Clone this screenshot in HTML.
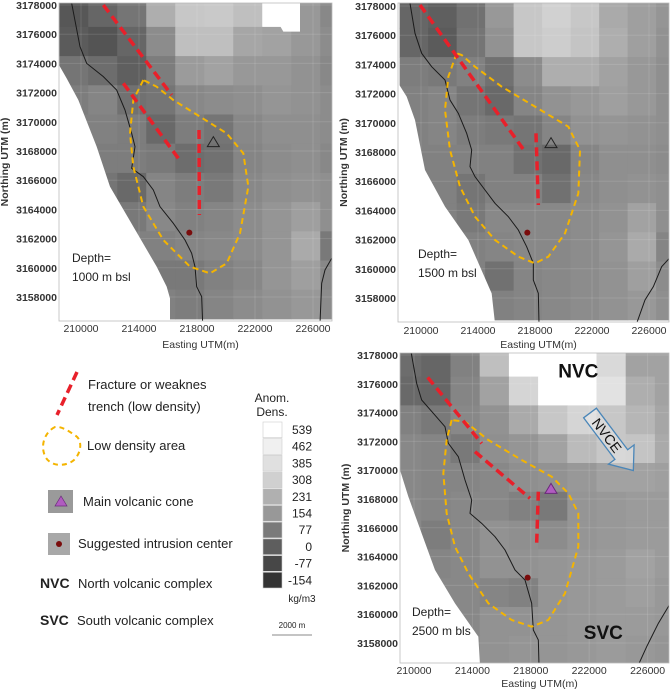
<!DOCTYPE html>
<html><head><meta charset="utf-8"><style>
html,body{margin:0;padding:0;background:#fff;}
svg{display:block;font-family:"Liberation Sans",sans-serif;}
</style></head><body>
<svg id="fig" width="671" height="694" viewBox="0 0 671 694">
<defs>
<clipPath id="c1"><rect x="59" y="3" width="273" height="318"/></clipPath>
<clipPath id="c2"><rect x="398" y="3" width="271" height="319"/></clipPath>
<clipPath id="c3"><rect x="400" y="353" width="269" height="310"/></clipPath>
</defs>
<g id="maps"></g>

<g font-size="13" fill="#222">
  <line x1="77" y1="372" x2="57" y2="415" stroke="#e8202a" stroke-width="3.5" stroke-dasharray="9,5"/>
  <text x="88" y="389">Fracture or weaknes</text>
  <text x="88" y="411">trench (low density)</text>
  <path d="M55,427 C45,432 40,445 45,456 C50,467 66,467 74,460 C82,452 82,440 76,436 C70,432 62,426 55,427 Z" fill="none" stroke="#f4b400" stroke-width="2" stroke-dasharray="5,4"/>
  <text x="87" y="450">Low density area</text>
  <rect x="48" y="490" width="25" height="23" fill="#9a9a9a"/>
  <polygon points="61,496 67,506 55,506" fill="#b05cc0" stroke="#6a2a7a" stroke-width="0.7"/>
  <text x="83" y="506">Main volcanic cone</text>
  <rect x="48" y="533" width="22" height="22" fill="#a8a8a8"/>
  <circle cx="59" cy="544" r="3" fill="#7a0c0c"/>
  <text x="78" y="548">Suggested intrusion center</text>
  <text x="40" y="588" font-weight="bold" font-size="14">NVC</text>
  <text x="78" y="588">North volcanic complex</text>
  <text x="40" y="625" font-weight="bold" font-size="14">SVC</text>
  <text x="77" y="625">South volcanic complex</text>
</g>
<g id="cbar" fill="#222">
  <text x="272" y="402" font-size="12" text-anchor="middle">Anom.</text>
  <text x="272" y="416" font-size="12" text-anchor="middle">Dens.</text>
  <text x="302" y="602" font-size="10" text-anchor="middle">kg/m3</text>
  <text x="292" y="628" font-size="8" text-anchor="middle">2000 m</text>
  <line x1="272" y1="635" x2="312" y2="635" stroke="#888" stroke-width="1"/>
</g>
</svg>
<script>
const levelValues = [539, 462, 385, 308, 231, 154, 77, 0, -77, -154];
const levelGrays = [255, 240, 224, 208, 176, 152, 122, 94, 71, 51];
const colEdgeStart = 208500, rowEdgeStart = 3178500, cellSize = 2000;
const eastTicks = [210000, 214000, 218000, 222000, 226000];
const northTicks = [3178000,3176000,3174000,3172000,3170000,3168000,3166000,3164000,3162000,3160000,3158000];

const grid1 = [
[20,60,100,260,330,340,300,539,200,150],
[30,10,60,160,300,300,240,230,200,160],
[100,80,40,120,210,230,200,200,180,150],
[120,140,90,100,150,160,170,190,180,160],
[130,130,120,70,120,100,150,170,170,160],
[130,120,120,110,80,90,140,160,170,150],
[120,100,70,140,120,110,150,170,180,170],
[130,120,110,150,130,140,160,190,220,170],
[130,130,130,130,140,150,160,190,250,110],
[130,130,130,110,110,130,150,190,220,150],
[130,130,130,130,120,140,160,180,200,160]];
const grid2 = [
[60,40,90,200,330,380,330,250,220,190],
[60,30,100,180,330,360,320,260,220,180],
[120,110,130,90,160,260,260,230,200,170],
[130,140,100,70,140,180,200,220,200,170],
[130,140,120,110,100,140,180,190,180,170],
[130,130,130,130,90,70,140,170,170,160],
[130,130,100,130,130,90,150,170,180,170],
[130,130,110,150,150,150,160,180,230,170],
[130,130,130,140,150,150,160,190,250,140],
[130,130,130,90,140,150,160,180,220,160],
[130,130,130,130,140,150,160,180,200,170]];
const grid3 = [
[80,60,130,300,539,539,539,420,230,230],
[70,60,140,230,400,539,539,460,260,230],
[130,110,150,180,250,330,400,330,280,240],
[150,140,110,170,190,230,290,330,320,250],
[150,140,140,150,170,180,200,230,230,220],
[150,140,150,150,130,110,190,200,210,210],
[150,120,150,180,170,160,190,200,210,210],
[150,140,150,180,180,190,200,210,230,210],
[150,150,150,140,130,190,200,210,220,200],
[150,150,150,180,180,190,200,210,210,200],
[150,150,150,180,190,190,200,210,200,190]];

function grayFor(v, dark){
  const d = dark||0;
  const f=g=>{g=Math.max(30,Math.round(g-(g>=250?0:d)));return `rgb(${g},${g},${g})`;};
  if (v >= levelValues[0]) return f(255);
  for (let i=0;i<levelValues.length-1;i++){
    const a=levelValues[i], b=levelValues[i+1];
    if (v<=a && v>=b){const t=(a-v)/(a-b);return f(levelGrays[i]+(levelGrays[i+1]-levelGrays[i])*t);}
  }
  return f(51);
}
const NS='http://www.w3.org/2000/svg';
function mk(tag,attrs,parent){const e=document.createElementNS(NS,tag);for(const k in attrs)e.setAttribute(k,attrs[k]);if(parent)parent.appendChild(e);return e;}

const panels = [
 {id:'panel-1000m',grid:grid1,clip:'c1',L:59,T:3,R:332,B:321,x0:81,sx:0.0145,y0:5,sy:0.0146,ox:0,oy:0,
  mask:[[177,195],[200,235],[235,300],[290,440],[330,560],[400,680],[470,800],[500,860],[510,895],[510,970],[170,970]],
  mask2:[[830,0],[900,0],[900,95],[850,95],[830,60]],
  faults:[[[310,15],[515,285]],[[370,250],[535,475]],[[597,390],[598,645]]],
  ell:[[430,240],[400,300],[390,400],[400,500],[430,620],[490,720],[570,800],[630,820],[680,790],[720,700],[745,560],[730,460],[680,400],[600,350],[520,300],[470,260]],
  tri:[640,425],triFill:false,dot:[568,698],
  river:[[215,10],[240,140],[260,190],[310,230],[350,270],[375,330],[395,400],[405,440],[395,505],[430,530],[460,570],[480,620],[520,670],[555,720],[575,760],[585,800],[590,860],[605,890],[608,970]],
  river2:[[995,775],[975,810],[965,850],[960,970]],
  depth:['Depth=','1000 m bsl'],dpos:[72,262],xl:328,xt:345},
 {id:'panel-1500m',grid:grid2,clip:'c2',L:398,T:3,R:669,B:322,x0:421,sx:0.01425,y0:6,sy:0.0146,ox:335,oy:0,
  mask:[[190,250],[215,290],[240,360],[270,510],[330,620],[400,720],[470,880],[480,970],[185,970]],
  mask2:null,
  faults:[[[255,15],[570,455]],[[603,400],[610,615]]],
  ell:[[365,160],[340,230],[330,330],[345,450],[375,560],[420,650],[480,720],[550,770],[600,790],[640,770],[690,700],[730,580],[735,450],[700,380],[600,320],[500,260],[420,200],[380,165]],
  tri:[648,428],triFill:false,dot:[577,698],
  river:[[225,10],[240,100],[260,160],[290,200],[330,240],[345,300],[370,340],[395,400],[410,450],[405,500],[420,530],[450,570],[480,610],[520,650],[550,690],[575,740],[595,790],[595,840],[610,880],[612,970]],
  river2:[[1003,775],[980,800],[955,860],[930,900],[905,970]],
  depth:['Depth=','1500 m bsl'],dpos:[418,258],xl:330,xt:345},
 {id:'panel-2500m',grid:grid3,clip:'c3',L:400,T:353,R:669,B:663,x0:414,sx:0.0146,y0:355,sy:0.0144,ox:335,oy:340,
  mask:[[195,390],[220,470],[260,580],[300,690],[360,790],[430,890],[435,975],[190,975]],
  mask2:null,
  faults:[[[278,112],[440,310]],[[420,335],[585,475]],[[610,455],[605,610]]],
  ell:[[350,240],[335,300],[325,400],[335,520],[360,620],[400,700],[460,790],[530,840],[590,860],[640,840],[690,760],[730,620],[730,520],[700,460],[650,410],[560,360],[460,300],[390,245]],
  tri:[648,445],triFill:true,dot:[578,713],
  river:[[228,35],[245,130],[260,180],[295,220],[330,260],[340,310],[370,350],[390,420],[410,480],[405,520],[440,550],[480,590],[510,630],[540,690],[570,720],[590,790],[595,870],[610,900],[612,975]],
  river2:[[1003,795],[970,850],[935,920],[910,975]],
  depth:['Depth=','2500 m bls'],dpos:[412,616],xl:670,xt:684}
];

const root=document.getElementById('maps');
panels.forEach(p=>{
  const g=mk('g',{},root);
  
  
  const X=e=>p.x0+(e-210000)*p.sx, Y=n=>p.y0+(3178000-n)*p.sy;
  const zx=z=>p.ox+z/3, zy=z=>p.oy+z/3;
  const cg=mk('g',{'clip-path':`url(#${p.clip})`},g);
  p.grid.forEach((row,r)=>row.forEach((v,c)=>{
    const e0=colEdgeStart+c*cellSize, n0=rowEdgeStart-r*cellSize;
    const x=X(e0), y=Y(n0), w=X(e0+cellSize)-x+0.5, h=Y(n0-cellSize)-y+0.5;
    const cell=mk('rect',{x:x,y:y,width:w,height:h,fill:grayFor(v,14)},cg);
    
    
  }));
  eastTicks.forEach(e=>mk('line',{x1:X(e),x2:X(e),y1:p.T,y2:p.B,stroke:'#fff','stroke-opacity':0.12},cg));
  northTicks.forEach(n=>mk('line',{x1:p.L,x2:p.R,y1:Y(n),y2:Y(n),stroke:'#fff','stroke-opacity':0.12},cg));
  const pts=a=>a.map(q=>zx(q[0])+','+zy(q[1])).join(' ');
  const m=mk('polygon',{points:pts(p.mask),fill:'#fff'},cg);
  
  
  if(p.mask2){mk('polygon',{points:pts(p.mask2),fill:'#fff'},cg);}
  const rv=mk('polyline',{points:pts(p.river),fill:'none',stroke:'#1a1a1a','stroke-width':1},cg);
  
  
  mk('polyline',{points:pts(p.river2),fill:'none',stroke:'#1a1a1a','stroke-width':1},cg);
  const el=mk('polygon',{points:pts(p.ell),fill:'none',stroke:'#f4b400','stroke-width':2,'stroke-dasharray':'6,4'},cg);
  
  
  p.faults.forEach(f=>{
    const l=mk('line',{x1:zx(f[0][0]),y1:zy(f[0][1]),x2:zx(f[1][0]),y2:zy(f[1][1]),stroke:'#e8202a','stroke-width':3.5,'stroke-dasharray':'9,5'},cg);
    
    
  });
  const tx=zx(p.tri[0]),ty=zy(p.tri[1]);
  const tr=mk('polygon',{points:`${tx},${ty-5} ${tx+6},${ty+5} ${tx-6},${ty+5}`,fill:p.triFill?'#b05cc0':'none',stroke:p.triFill?'#6a2a7a':'#222','stroke-width':1},cg);
  
  
  const dt=mk('circle',{cx:zx(p.dot[0]),cy:zy(p.dot[1]),r:3,fill:'#7a0c0c'},cg);
  
  
  mk('rect',{x:p.L,y:p.T,width:p.R-p.L,height:p.B-p.T,fill:'none',stroke:'#bbb','stroke-width':0.8},g);
  const d1=mk('text',{x:p.dpos[0],y:p.dpos[1],'font-size':12,fill:'#222'},g); d1.textContent=p.depth[0];
  
  
  const d2=mk('text',{x:p.dpos[0],y:p.dpos[1]+19,'font-size':12,fill:'#222'},g); d2.textContent=p.depth[1];
  northTicks.forEach(n=>{
    const t=mk('text',{x:p.L-2,y:Y(n)+4,'font-size':10.5,'text-anchor':'end',fill:'#333','font-weight':'bold'},g);
    t.textContent=n;
    
    
  });
  eastTicks.forEach(e=>{
    const t=mk('text',{x:X(e),y:p.xl+4,'font-size':10.5,'text-anchor':'middle',fill:'#333'},g);
    t.textContent=e;
    
    
  });
  const xt=mk('text',{x:(p.L+p.R)/2+5,y:p.xt+3,'font-size':10.5,'text-anchor':'middle',fill:'#333'},g);
  xt.textContent='Easting UTM(m)';
  
  
  const yc=(p.T+p.B)/2, yx=p.L-51;
  const yt=mk('text',{x:yx,y:yc,'font-size':10.5,'text-anchor':'middle',fill:'#333','font-weight':'bold',transform:`rotate(-90 ${yx} ${yc})`},g);
  yt.textContent='Northing UTM (m)';
  
  
  if(p.id==='panel-2500m'){
    const a=mk('text',{x:zx(730),y:zy(112),'font-size':19,'font-weight':'bold','text-anchor':'middle',fill:'#111'},g);
    a.textContent='NVC';
    
    
    const b=mk('text',{x:zx(805),y:zy(897),'font-size':19,'font-weight':'bold','text-anchor':'middle',fill:'#111'},g);
    b.textContent='SVC';
    
    
    const ag=mk('g',{transform:'translate(590,413) rotate(53)'},g);
    
    
    mk('polygon',{points:'0,-8 52,-8 52,-16 72,0 52,16 52,8 0,8',fill:'rgba(255,255,255,0.3)',stroke:'#4a86b8','stroke-width':1.3},ag);
    const at=mk('text',{x:28,y:5,'font-size':14,'text-anchor':'middle',fill:'#111'},ag);
    at.textContent='NVCE';
  }
});

const cb=document.getElementById('cbar');
levelValues.forEach((v,i)=>{
  const y=422+i*16.7;
  const r=mk('rect',{x:263,y:y,width:19,height:15.7,fill:grayFor(v),stroke:'#ccc','stroke-width':0.6},cb);
  
  
  const t=mk('text',{x:312,y:y+12,'font-size':12,'text-anchor':'end',fill:'#222'},cb);
  t.textContent=v;
  
  
});
</script>
</body></html>
